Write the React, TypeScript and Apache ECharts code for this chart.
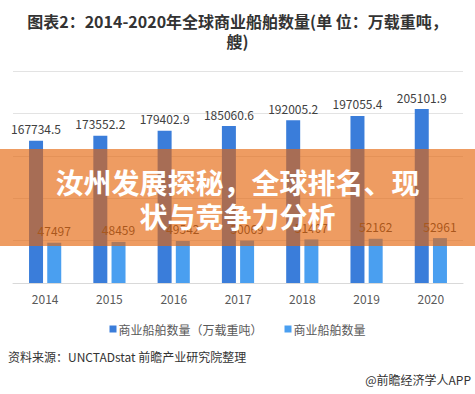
import React, { useEffect, useRef } from "react";
import * as echarts from "echarts";

const years = ["2014", "2015", "2016", "2017", "2018", "2019", "2020"];
const tonnage = [167734.5, 173552.2, 179402.9, 185060.6, 192005.2, 197055.4, 205101.9];
const shipCount = [47497, 48459, 49542, 50069, 51407, 52162, 52961];
const seriesNames = ["商业船舶数量（万载重吨）", "商业船舶数量"];
const titleText = "图表2：2014-2020年全球商业船舶数量(单 位：万载重吨，\n艘)";
const overlayLines = ["汝州发展探秘，全球排名、现", "状与竞争力分析"];
const sourceText = "资料来源：UNCTADstat 前瞻产业研究院整理";
const creditText = "@前瞻经济学人APP";

const FONT = "'Noto Sans CJK SC', 'Noto Sans', sans-serif";

export default function App() {
  const ref = useRef<HTMLDivElement>(null);
  useEffect(() => {
    if (!ref.current) return;
    const chart = echarts.init(ref.current, null, { renderer: "svg" });
    chart.setOption({
      animation: false,
      backgroundColor: "#ffffff",
      textStyle: { fontFamily: FONT },
      title: {
        text: titleText,
        left: "center",
        top: 6,
        textStyle: {
          fontFamily: FONT,
          fontSize: 16,
          fontWeight: "bold",
          color: "#333333",
          lineHeight: 20,
        },
      },
      grid: { left: 13, right: 12, top: 71, bottom: 111, containLabel: false },
      xAxis: {
        type: "category",
        data: years,
        axisLine: { lineStyle: { color: "#d9d9d9" } },
        axisTick: { show: false },
        axisLabel: { color: "#595959", fontSize: 12, margin: 9, fontFamily: FONT },
      },
      yAxis: {
        type: "value",
        min: 0,
        max: 250000,
        interval: 50000,
        axisLabel: { show: false },
        axisLine: { show: false },
        axisTick: { show: false },
        splitLine: { lineStyle: { color: "#e3e3e3" } },
      },
      legend: {
        data: seriesNames,
        top: 318,
        left: "center",
        itemWidth: 7,
        itemHeight: 7,
        itemGap: 22,
        icon: "rect",
        textStyle: { color: "#595959", fontSize: 12, fontFamily: FONT, padding: [0, 0, 0, -3] },
      },
      series: [
        {
          name: seriesNames[0],
          type: "bar",
          data: tonnage,
          barWidth: 14,
          barGap: "30%",
          itemStyle: { color: "#3a7dda" },
          label: { show: true, position: "top", distance: 6, color: "#404040", fontSize: 12, fontFamily: FONT },
        },
        {
          name: seriesNames[1],
          type: "bar",
          data: shipCount,
          barWidth: 14,
          barGap: "30%",
          itemStyle: { color: "#4a9ff0" },
          label: { show: true, position: "top", distance: 6, color: "#404040", fontSize: 12, fontFamily: FONT },
        },
      ],
      graphic: [
        {
          type: "rect",
          left: 0,
          top: 149,
          shape: { width: 475, height: 97 },
          style: { fill: "rgba(228,100,10,0.64)" },
          z: 100,
        },
        {
          type: "text",
          left: "center",
          top: 168,
          style: {
            text: overlayLines[0],
            fontSize: 28,
            fontWeight: "bold",
            fill: "#ffffff",
            fontFamily: FONT,
          },
          z: 101,
        },
        {
          type: "text",
          left: "center",
          top: 202,
          style: {
            text: overlayLines[1],
            fontSize: 28,
            fontWeight: "bold",
            fill: "#ffffff",
            fontFamily: FONT,
          },
          z: 101,
        },
        {
          type: "text",
          left: 8,
          top: 350,
          style: { text: sourceText, fontSize: 12, fill: "#333333", fontFamily: FONT },
        },
        {
          type: "text",
          right: 4,
          top: 373,
          style: { text: creditText, fontSize: 12, fill: "#333333", fontFamily: FONT },
        },
      ],
    });
    return () => chart.dispose();
  }, []);
  return (
    <div
      ref={ref}
      style={{ width: 475, height: 394, position: "absolute", left: 0, top: 0 }}
    />
  );
}
